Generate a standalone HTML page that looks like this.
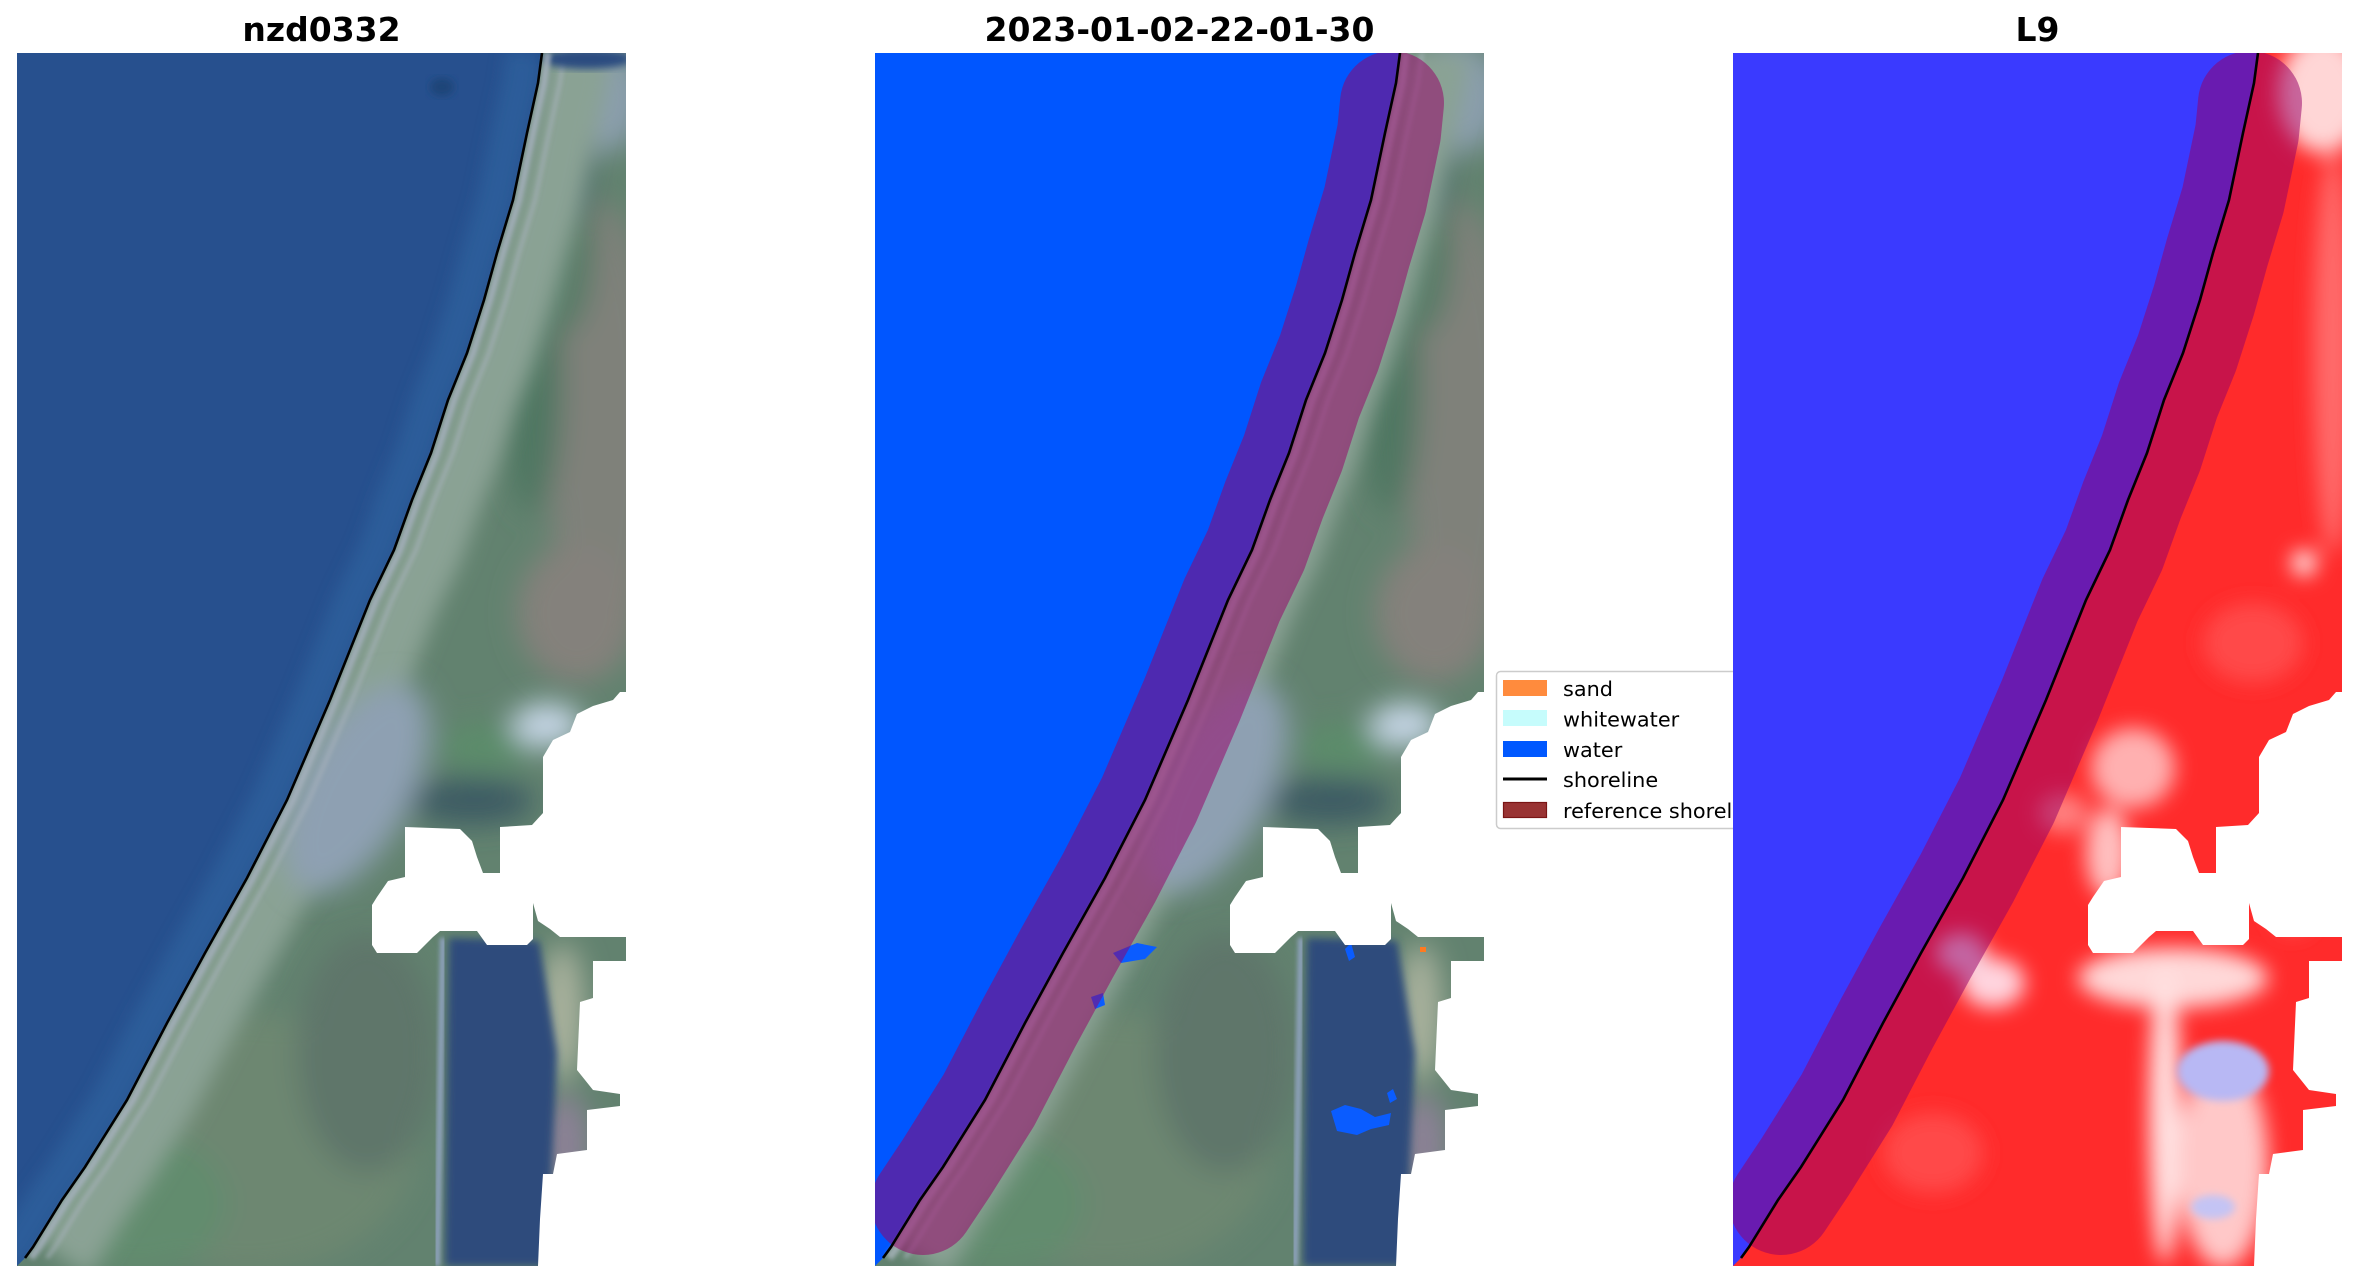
<!DOCTYPE html>
<html>
<head>
<meta charset="utf-8">
<style>
html,body{margin:0;padding:0;background:#fff;}
body{width:2358px;height:1283px;overflow:hidden;}
svg{display:block;}
</style>
</head>
<body>
<svg width="2358" height="1283" viewBox="0 0 2358 1283" xmlns="http://www.w3.org/2000/svg">
<defs>
  <clipPath id="pc"><rect x="0" y="0" width="609" height="1213"/></clipPath>
  <clipPath id="seaclip"><polygon points="0,0 525,0 521,30 510,80 496,147 480,200 467,247 450,300 431,347 414,400 395,447 377,497 353,547 313,647 270,747 230,825 188,900 150,970 110,1047 68,1114 45,1147 16,1194 8,1205 0,1213"/></clipPath>
  <filter id="b2" x="-20%" y="-20%" width="140%" height="140%"><feGaussianBlur stdDeviation="2"/></filter>
  <filter id="b4" x="-20%" y="-20%" width="140%" height="140%"><feGaussianBlur stdDeviation="4"/></filter>
  <filter id="b8" x="-30%" y="-30%" width="160%" height="160%"><feGaussianBlur stdDeviation="8"/></filter>
  <filter id="b10" x="-30%" y="-30%" width="160%" height="160%"><feGaussianBlur stdDeviation="10"/></filter>
  <filter id="b14" x="-30%" y="-30%" width="160%" height="160%"><feGaussianBlur stdDeviation="14"/></filter>

  <polygon id="sea" points="0,0 525,0 521,30 510,80 496,147 480,200 467,247 450,300 431,347 414,400 395,447 377,497 353,547 313,647 270,747 230,825 188,900 150,970 110,1047 68,1114 45,1147 16,1194 8,1205 0,1213"/>
  <polyline id="shore" fill="none" points="525,0 521,30 510,80 496,147 480,200 467,247 450,300 431,347 414,400 395,447 377,497 353,547 313,647 270,747 230,825 188,900 150,970 110,1047 68,1114 45,1147 16,1194 8,1205"/>
  <polyline id="bandc" fill="none" points="517,50 514,80 500,147 484,200 471,247 454,300 435,347 418,400 399,447 381,497 357,547 317,647 274,747 234,825 192,900 154,970 114,1047 72,1114 48,1150"/>

  <g id="mask" fill="#ffffff">
    <polygon points="609,639 603,639 596,647 576,653 560,661 553,679 536,687 526,704 526,760 515,772 483,774 483,820 466,820 460,804 455,788 443,776 388,774 388,824 371,828 360,844 355,852 355,892 360,900 400,900 416,884 423,878 460,878 470,892 510,892 516,886 516,850 521,868 533,876 543,884 609,884"/>
    <polygon points="609,908 576,908 576,945 563,949 560,1017 576,1037 603,1041 603,1053 570,1057 570,1097 540,1101 536,1121 526,1121 523,1166 521,1213 609,1213"/>
  </g>

  <g id="land">
    <rect width="609" height="1213" fill="#62826f"/>
    <g filter="url(#b14)">
      <ellipse cx="585" cy="380" rx="55" ry="230" fill="#7f817a"/>
      <ellipse cx="560" cy="560" rx="60" ry="70" fill="#84817c"/>
      <ellipse cx="515" cy="330" rx="30" ry="130" fill="#4f7762"/>
      <ellipse cx="548" cy="190" rx="30" ry="90" fill="#587c68"/>
      <ellipse cx="585" cy="45" rx="45" ry="55" fill="#8a9eac"/>
      <ellipse cx="555" cy="125" rx="20" ry="40" fill="#4c6c6c"/>
      <ellipse cx="230" cy="1090" rx="170" ry="130" fill="#6d8771"/>
      <ellipse cx="120" cy="1150" rx="90" ry="70" fill="#628c6e"/>
      <ellipse cx="350" cy="1000" rx="70" ry="120" fill="#5f766b"/>
      <ellipse cx="545" cy="960" rx="22" ry="70" fill="#aab29e"/>
      <ellipse cx="548" cy="1090" rx="25" ry="50" fill="#8c8196"/>
    </g>
    <use href="#shore" transform="translate(38,0)" stroke="#8aa294" stroke-width="62" filter="url(#b10)"/>
    <g filter="url(#b14)">
      <ellipse cx="340" cy="735" rx="55" ry="115" transform="rotate(28 340 735)" fill="#8ea0b2"/>
      <ellipse cx="455" cy="748" rx="62" ry="24" fill="#3e5c64"/>
      <ellipse cx="470" cy="694" rx="48" ry="24" fill="#5c8c6a"/>
      <ellipse cx="530" cy="672" rx="35" ry="22" fill="#c6d6e6"/>
    </g>
    <use href="#shore" transform="translate(22,0)" stroke="#aab4bf" stroke-width="4" opacity="0.6" filter="url(#b2)"/>
    <g filter="url(#b4)">
      <polygon points="432,885 522,888 540,1000 530,1213 428,1213" fill="#2f4b7c"/>
    </g>
    <polyline points="426,885 420,1213" stroke="#8ea2bc" stroke-width="6" fill="none" filter="url(#b2)"/>
  </g>
</defs>

<!-- Titles -->
<g font-family="'DejaVu Sans','Liberation Sans',sans-serif" font-weight="bold" font-size="33" fill="#000" text-anchor="middle">
  <text x="321.5" y="41">nzd0332</text>
  <text x="1179.5" y="41">2023-01-02-22-01-30</text>
  <text x="2037.5" y="41">L9</text>
</g>

<!-- Panel 1 -->
<g transform="translate(17,53)">
  <g clip-path="url(#pc)">
    <use href="#land"/>
    <use href="#sea" fill="#27508e"/>
    <g clip-path="url(#seaclip)">
      <use href="#shore" transform="translate(-18,0)" stroke="#2f629e" stroke-width="36" opacity="0.75" filter="url(#b8)"/>
      <ellipse cx="425" cy="34" rx="12" ry="9" fill="#1f4478" filter="url(#b4)"/>
    </g>
    <ellipse cx="570" cy="6" rx="45" ry="10" fill="#2b4c80" filter="url(#b4)"/>
    <use href="#shore" transform="translate(6,0)" stroke="#a9b3c1" stroke-width="7" opacity="0.8" filter="url(#b2)"/>
    <use href="#mask"/>
    <use href="#shore" stroke="#000" stroke-width="2.6"/>
  </g>
</g>

<!-- Panel 2 -->
<g transform="translate(875,53)">
  <g clip-path="url(#pc)">
    <use href="#land"/>
    <use href="#sea" fill="#0056ff"/>
    <use href="#shore" transform="translate(6,0)" stroke="#b4bcc8" stroke-width="8" opacity="0.7" filter="url(#b2)"/>
    <g fill="#0a5cff">
      <polygon points="456,1058 470,1052 486,1056 500,1064 516,1060 514,1072 496,1076 482,1082 462,1078"/>
      <polygon points="512,1040 518,1036 522,1046 515,1050"/>
      <polygon points="238,900 262,890 282,894 270,906 246,910"/>
      <polygon points="216,944 228,940 230,952 220,956"/>
      <polygon points="470,896 476,890 480,904 474,908"/>
    </g>
    <rect x="545" y="894" width="6" height="5" fill="#ff7a20"/>
    <use href="#mask"/>
    <g opacity="0.52">
      <use href="#bandc" stroke="rgb(150,0,104)" stroke-width="104" stroke-linecap="round" stroke-linejoin="round"/>
    </g>
    <use href="#shore" stroke="#000" stroke-width="2.6"/>
  </g>
</g>

<!-- Legend (drawn before panel 3, which covers its right part) -->
<g>
  <rect x="1496.5" y="671.5" width="320" height="157" rx="4" ry="4" fill="#ffffff" fill-opacity="0.8" stroke="#cccccc" stroke-width="1.5"/>
  <rect x="1503" y="680" width="44" height="16" fill="#ff8b3d"/>
  <rect x="1503" y="710" width="44" height="16" fill="#c6fcfc"/>
  <rect x="1503" y="741" width="44" height="16" fill="#0058ff"/>
  <line x1="1503" y1="779" x2="1547" y2="779" stroke="#000" stroke-width="3"/>
  <rect x="1503.5" y="802.5" width="43" height="15" fill="#993333" stroke="#7a1515" stroke-width="1.2"/>
  <g font-family="'DejaVu Sans','Liberation Sans',sans-serif" font-size="20.8" fill="#000">
    <text x="1563" y="696">sand</text>
    <text x="1563" y="726.5">whitewater</text>
    <text x="1563" y="757">water</text>
    <text x="1563" y="787">shoreline</text>
    <text x="1563" y="818">reference shoreline</text>
  </g>
</g>

<!-- Panel 3 -->
<g transform="translate(1733,53)">
  <rect width="609" height="1213" fill="#ffffff"/>
  <g clip-path="url(#pc)">
    <rect width="609" height="1213" fill="#ff2b2b"/>
    <g filter="url(#b10)">
      <ellipse cx="590" cy="40" rx="45" ry="60" fill="#ffd6d6"/>
      <ellipse cx="600" cy="300" rx="20" ry="200" fill="#ff6a6a"/>
      <ellipse cx="571" cy="510" rx="12" ry="12" fill="#ffffff"/>
      <ellipse cx="400" cy="715" rx="42" ry="40" fill="#ffb0b0"/>
      <ellipse cx="375" cy="800" rx="22" ry="45" fill="#ffc0c0"/>
      <ellipse cx="330" cy="760" rx="25" ry="20" fill="#ff8080"/>
      <ellipse cx="440" cy="925" rx="95" ry="30" fill="#ffd8d8"/>
      <ellipse cx="432" cy="1060" rx="16" ry="150" fill="#ffe2e2"/>
      <ellipse cx="490" cy="1110" rx="45" ry="105" fill="#ffc8c8"/>
      <ellipse cx="260" cy="930" rx="32" ry="25" fill="#ffd4de"/>
      <ellipse cx="228" cy="900" rx="25" ry="20" fill="#f4d4e4"/>
      <ellipse cx="520" cy="590" rx="50" ry="40" fill="#ff4848"/>
      <ellipse cx="560" cy="820" rx="30" ry="60" fill="#ff5a5a"/>
      <ellipse cx="200" cy="1100" rx="50" ry="40" fill="#ff4a4a"/>
    </g>
    <g filter="url(#b4)">
      <ellipse cx="490" cy="1018" rx="46" ry="30" fill="#b8b8f4"/>
      <ellipse cx="480" cy="1154" rx="22" ry="12" fill="#c4c4f4"/>
    </g>
    <use href="#sea" fill="#3a3aff"/>
    <use href="#mask"/>
    <g opacity="0.52">
      <use href="#bandc" stroke="rgb(150,0,104)" stroke-width="104" stroke-linecap="round" stroke-linejoin="round"/>
    </g>
    <use href="#shore" stroke="#000" stroke-width="2.6"/>
  </g>
</g>
</svg>
</body>
</html>
